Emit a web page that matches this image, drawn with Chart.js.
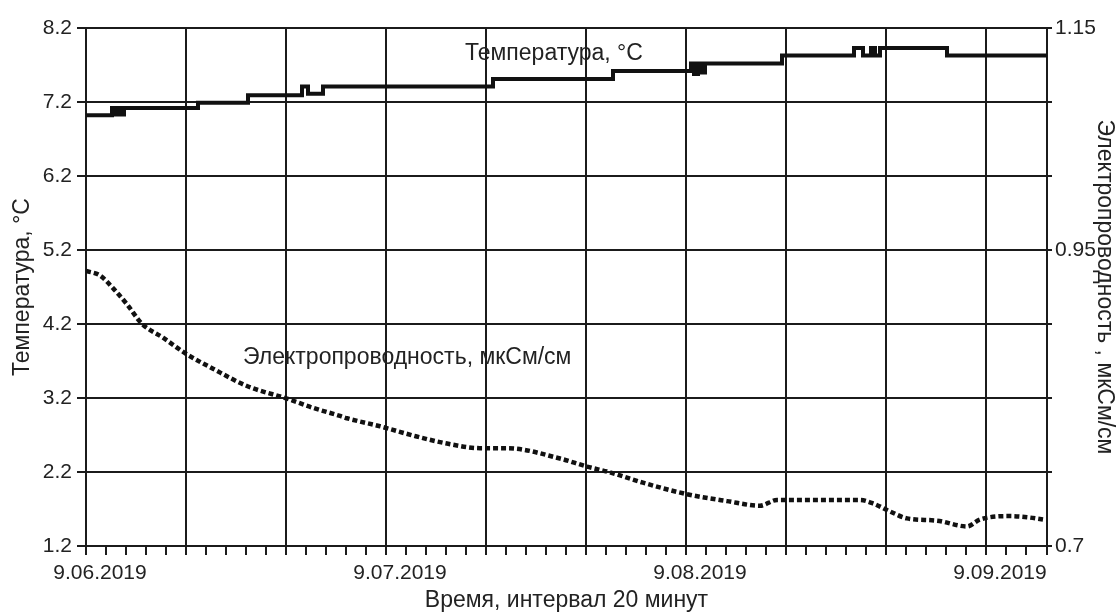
<!DOCTYPE html>
<html>
<head>
<meta charset="utf-8">
<script src="https://cdn.jsdelivr.net/npm/chart.js@4.4.0/dist/chart.umd.min.js"></script>
<style>
  html, body { margin: 0; padding: 0; background: #fff; }
</style>
</head>
<body>
<canvas id="chart" width="1118" height="615"></canvas>
<script>
// x values are days counted from 9.06.2019 (20-minute logging)
const tempDays = [0, 2.6, 2.9, 3.2, 3.5, 3.8, 11.2, 16.2, 21.6, 22.2, 23.7, 40.7, 52.7,
  60.5, 60.8, 61.2, 61.5, 61.9, 69.6, 76.8, 77.7, 78.5, 78.9, 79.4, 86.1, 96.1];
const tempValues = [7.02, 7.12, 7.03, 7.12, 7.03, 7.12, 7.19, 7.29, 7.41, 7.31, 7.41, 7.51, 7.62,
  7.72, 7.58, 7.72, 7.60, 7.72, 7.83, 7.93, 7.83, 7.93, 7.83, 7.93, 7.83, 7.83];

const condDays = [0, 1.4, 2.7, 4.1, 5.6, 7.7, 10.0, 12.7, 16.1, 20.1, 22.7, 25.4, 26.1, 29.4,
  32.7, 36.1, 39.4, 42.1, 47.4, 50.1, 52.4, 55.7, 60.1, 64.1, 67.4, 69.1, 77.4, 78.7,
  80.4, 82.1, 85.1, 88.1, 89.4, 92.4, 94.1, 95.7];
const condValues = [0.939, 0.935, 0.924, 0.910, 0.893, 0.881, 0.867, 0.854, 0.839, 0.828,
  0.820, 0.813, 0.811, 0.804, 0.796, 0.789, 0.785, 0.785, 0.776, 0.769, 0.764, 0.755,
  0.745, 0.739, 0.735, 0.740, 0.740, 0.737, 0.730, 0.724, 0.722, 0.717, 0.723, 0.726,
  0.725, 0.723];

const xLabelDays = [0, 30, 60, 90];
const xLabelText = ['9.06.2019', '9.07.2019', '9.08.2019', '9.09.2019'];
const rightTickLabels = ['0.7', '', '', '', '0.95', '', '', '1.15'];

const ink = '#1b1b1b';
const FONT = '"Liberation Sans", Arial, sans-serif';
Chart.defaults.font.family = FONT;
Chart.defaults.color = '#222';

// captions written inside the plot, anchored in data coordinates
const captions = {
  id: 'captions',
  afterDatasetsDraw(chart) {
    const {ctx, scales} = chart;
    const items = [
      {text: 'Температура, °C', x: 37.9, y: 7.86},
      {text: 'Электропроводность, мкСм/см', x: 15.7, y: 3.75}
    ];
    ctx.save();
    ctx.font = '23px ' + FONT;
    ctx.fillStyle = '#222';
    ctx.textAlign = 'left';
    ctx.textBaseline = 'middle';
    items.forEach(it => {
      ctx.fillText(it.text, scales.x.getPixelForValue(it.x), scales.y.getPixelForValue(it.y));
    });
    ctx.restore();
  }
};

new Chart(document.getElementById('chart'), {
  type: 'line',
  data: {
    datasets: [{
      label: 'Температура, °C',
      data: tempDays.map((d, i) => ({x: d, y: tempValues[i]})),
      yAxisID: 'y',
      stepped: 'before',
      borderColor: '#111',
      borderWidth: 4,
      pointRadius: 0
    }, {
      label: 'Электропроводность, мкСм/см',
      data: condDays.map((d, i) => ({x: d, y: condValues[i]})),
      yAxisID: 'y2',
      borderColor: '#111',
      borderWidth: 4.5,
      borderDash: [5, 3],
      cubicInterpolationMode: 'monotone',
      pointRadius: 0
    }]
  },
  options: {
    responsive: false,
    animation: false,
    devicePixelRatio: 1,
    layout: { padding: { top: 28, left: 0, right: 0, bottom: 0 } },
    plugins: { legend: { display: false }, tooltip: { enabled: false } },
    scales: {
      x: {
        type: 'linear',
        min: 0,
        max: 96.1,
        afterFit: s => { s.height = 69; },
        border: { color: ink, width: 2 },
        grid: {
          color: c => (c.tick && c.tick.value % 10 === 0 ? ink : 'rgba(0,0,0,0)'),
          tickColor: ink,
          lineWidth: 2,
          tickWidth: 2,
          tickLength: 9
        },
        ticks: {
          stepSize: 2,
          autoSkip: false,
          maxRotation: 0,
          minRotation: 0,
          padding: 6,
          labelOffset: 14,
          font: { size: 21 },
          callback: v => {
            const i = xLabelDays.indexOf(v);
            return i >= 0 ? xLabelText[i] : '';
          }
        },
        title: {
          display: true,
          text: 'Время, интервал 20 минут',
          font: { size: 23 },
          padding: { top: 0, bottom: 1 }
        }
      },
      y: {
        position: 'left',
        min: 1.2,
        max: 8.2,
        afterFit: s => { s.width = 86; },
        border: { color: ink, width: 2 },
        grid: { color: ink, lineWidth: 2, tickLength: 9 },
        ticks: {
          stepSize: 1,
          padding: 5,
          font: { size: 21 },
          callback: v => v.toFixed(1)
        },
        title: {
          display: true,
          text: 'Температура, °C',
          font: { size: 23 },
          padding: { top: 9, bottom: 0 }
        }
      },
      y2: {
        position: 'right',
        min: 0.7,
        max: 1.15,
        afterFit: s => { s.width = 71; },
        afterBuildTicks: s => {
          s.ticks = rightTickLabels.map((t, i) => ({value: 0.7 + i * 0.45 / 7}));
        },
        border: { color: ink, width: 2 },
        grid: { drawOnChartArea: false, color: ink, lineWidth: 2, tickLength: 5 },
        ticks: {
          padding: 3,
          font: { size: 21 },
          callback: (v, i) => rightTickLabels[i]
        },
        title: {
          display: true,
          text: 'Электропроводность , мкСм/см',
          font: { size: 23 },
          padding: { top: 0, bottom: 0 }
        }
      }
    }
  },
  plugins: [captions]
});
</script>
</body>
</html>
